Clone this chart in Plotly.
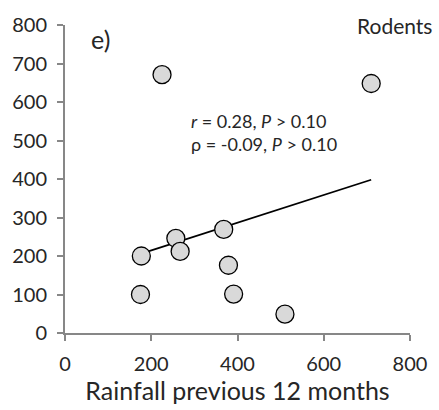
import numpy as np
import plotly.graph_objects as go

rainfall = [175, 177, 257, 267, 368, 379, 391, 510, 225, 710]
rodents = [100, 200, 246, 212, 269, 176, 101, 49, 671, 648]
x_ticks = [0, 200, 400, 600, 800]
y_ticks = [0, 100, 200, 300, 400, 500, 600, 700, 800]

slope, intercept = np.polyfit(rainfall, rodents, 1)
fit_x = np.array([min(rainfall), max(rainfall)])
fit_y = slope * fit_x + intercept

FONT = "Lato"
GRAY = "#878787"
TXT = "#262626"

fig = go.Figure()
fig.add_trace(go.Scatter(x=fit_x, y=fit_y, mode="lines",
                         line=dict(color="black", width=1.8), showlegend=False))
fig.add_trace(go.Scatter(x=rainfall, y=rodents, mode="markers",
                         marker=dict(size=18, color="#d9d9d9",
                                     line=dict(color="black", width=1.3)),
                         showlegend=False))

fig.update_layout(
    width=439, height=410,
    margin=dict(l=64, r=27, t=24, b=77),
    paper_bgcolor="white", plot_bgcolor="white",
    font=dict(family=FONT, color=TXT),
    xaxis=dict(range=[0, 800], tickvals=x_ticks, showgrid=False, zeroline=False,
               showline=True, linecolor=GRAY, linewidth=2, ticks="outside",
               tickcolor=GRAY, ticklen=6, tickwidth=2,
               tickfont=dict(size=20, family=FONT, color=TXT), ticklabelstandoff=6,
               title=dict(text="Rainfall previous 12 months",
                          font=dict(size=25, family=FONT, color=TXT), standoff=5)),
    yaxis=dict(range=[0, 800], tickvals=y_ticks, showgrid=False, zeroline=False,
               showline=True, linecolor=GRAY, linewidth=2, ticks="outside",
               tickcolor=GRAY, ticklen=6, tickwidth=2,
               tickfont=dict(size=20, family=FONT, color=TXT), ticklabelstandoff=6),
)

fig.add_annotation(x=0.07, y=0.955, xref="paper", yref="paper", text="e)",
                   showarrow=False, xanchor="left", yanchor="middle",
                   font=dict(size=25, family=FONT, color=TXT))
fig.add_annotation(x=1.07, y=1.0, xref="paper", yref="paper", text="Rodents",
                   showarrow=False, xanchor="right", yanchor="middle",
                   font=dict(size=21, family=FONT, color=TXT))
fig.add_annotation(x=0.36, y=0.652, xref="paper", yref="paper",
                   text="<i>r</i> = 0.28, <i>P</i> > 0.10<br>ρ = -0.09, <i>P</i> > 0.10",
                   showarrow=False, xanchor="left", yanchor="middle", align="left",
                   font=dict(size=18, family=FONT, color=TXT))

fig.write_html("out.html")
